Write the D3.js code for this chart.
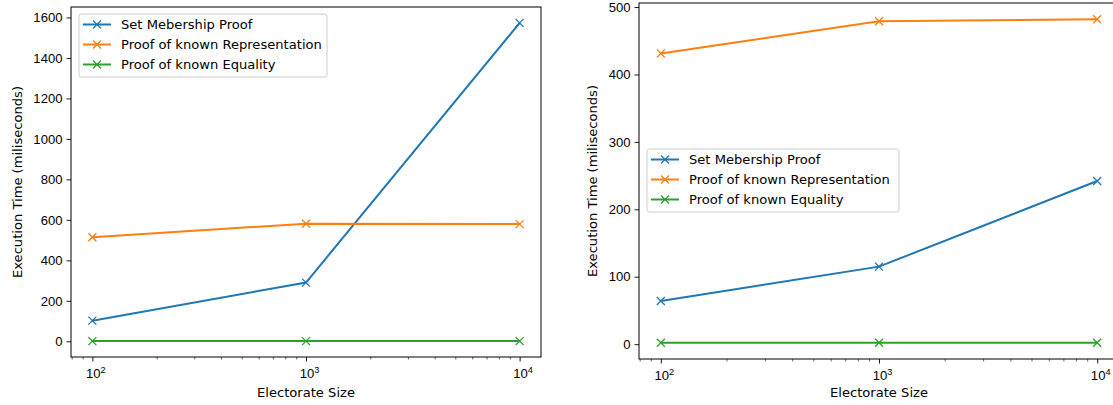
<!DOCTYPE html>
<html>
<head>
<meta charset="utf-8">
<script src="https://cdn.jsdelivr.net/npm/d3@7"></script>
<style>
  html, body { margin: 0; padding: 0; background: #fff; }
  svg { display: block; font-family: "DejaVu Sans", sans-serif; }
</style>
</head>
<body>
<svg id="chart" width="1113" height="405"></svg>
<script>
// Data
const electorateSizes = [100, 1000, 10000];
const seriesNames = ["Set Mebership Proof", "Proof of known Representation", "Proof of known Equality"];
const seriesColors = ["#1f77b4", "#ff7f0e", "#2ca02c"];

const leftMembership     = [102, 290, 1573];
const leftRepresentation = [514, 581, 579];
const leftEquality       = [1, 1, 1];

const rightMembership     = [64, 115, 242];
const rightRepresentation = [431, 479, 482];
const rightEquality       = [2, 2, 2];

const leftYTicks  = [0, 200, 400, 600, 800, 1000, 1200, 1400, 1600];
const rightYTicks = [0, 100, 200, 300, 400, 500];
const xMajorTicks = [100, 1000, 10000];
const xTickExp    = ["2", "3", "4"];

const xLabel = "Electorate Size";
const yLabel = "Execution Time (miliseconds)";

const svg = d3.select("#chart");
const FS = 13.1;

// panel layout
const panels = [
  { series: [leftMembership, leftRepresentation, leftEquality], yTicks: leftYTicks,
    box: { x0: 71, x1: 541, y0: 7, y1: 357 }, legend: { x: 79, y: 14 }, legendW: 248, yLabelX: 17 },
  { series: [rightMembership, rightRepresentation, rightEquality], yTicks: rightYTicks,
    box: { x0: 639, x1: 1119, y0: 3, y1: 359 }, legend: { x: 647, y: 149 }, legendW: 252, yLabelX: 592 }
];

// matplotlib-style 5% margins
function padded(lo, hi, log) {
  if (log) {
    const a = Math.log10(lo), b = Math.log10(hi), m = (b - a) * 0.05;
    return [Math.pow(10, a - m), Math.pow(10, b + m)];
  }
  const m = (hi - lo) * 0.05;
  return [lo - m, hi + m];
}

panels.forEach(p => {
  const b = p.box;
  const g = svg.append("g");

  const allVals = p.series.flat();
  const x = d3.scaleLog()
    .domain(padded(d3.min(electorateSizes), d3.max(electorateSizes), true))
    .range([b.x0, b.x1]);
  const y = d3.scaleLinear()
    .domain(padded(d3.min(allVals), d3.max(allVals), false))
    .range([b.y1, b.y0]);

  // minor ticks on log axis
  const [dlo, dhi] = x.domain();
  const minor = [];
  for (let e = Math.floor(Math.log10(dlo)); e <= Math.ceil(Math.log10(dhi)); e++) {
    for (let k = 2; k <= 9; k++) {
      const v = k * Math.pow(10, e);
      if (v >= dlo && v <= dhi) minor.push(v);
    }
  }

  const xMinorAxis = g.append("g")
    .attr("transform", `translate(0,${b.y1})`)
    .call(d3.axisBottom(x).tickValues(minor).tickSize(2.5).tickFormat(""));
  xMinorAxis.select(".domain").remove();
  xMinorAxis.selectAll("line").attr("stroke", "#000").attr("stroke-width", 0.6);

  const xAxis = g.append("g")
    .attr("transform", `translate(0,${b.y1})`)
    .call(d3.axisBottom(x).tickValues(xMajorTicks).tickSize(4.5).tickPadding(5).tickFormat(() => ""));
  xAxis.select(".domain").remove();
  xAxis.selectAll("line").attr("stroke", "#000").attr("stroke-width", 0.9);
  xAxis.selectAll(".tick text")
    .attr("font-size", FS).attr("fill", "#000")
    .attr("dy", "0.9em")
    .each(function(d, i) {
      const t = d3.select(this);
      t.append("tspan").text("10");
      t.append("tspan").attr("font-size", FS * 0.7).attr("dy", "-0.6em").text(xTickExp[i]);
    })
    .attr("dx", 3);

  const yAxis = g.append("g")
    .attr("transform", `translate(${b.x0},0)`)
    .call(d3.axisLeft(y).tickValues(p.yTicks).tickSize(4.5).tickPadding(4).tickFormat(d3.format("d")));
  yAxis.select(".domain").remove();
  yAxis.selectAll("line").attr("stroke", "#000").attr("stroke-width", 0.9);
  yAxis.selectAll("text").attr("font-size", FS).attr("fill", "#000");

  // spines
  g.append("rect")
    .attr("x", b.x0).attr("y", b.y0)
    .attr("width", b.x1 - b.x0).attr("height", b.y1 - b.y0)
    .attr("fill", "none").attr("stroke", "#000").attr("stroke-width", 1);

  // axis labels
  g.append("text")
    .attr("x", x(1000)).attr("y", 397)
    .attr("text-anchor", "middle").attr("font-size", FS).text(xLabel);
  g.append("text")
    .attr("transform", `translate(${p.yLabelX},${(b.y0 + b.y1) / 2}) rotate(-90)`)
    .attr("text-anchor", "middle").attr("dy", "0.35em")
    .attr("font-size", FS).text(yLabel);

  // lines + markers
  const line = d3.line().x((d, i) => x(electorateSizes[i])).y(d => y(d));
  p.series.forEach((vals, si) => {
    g.append("path")
      .datum(vals)
      .attr("fill", "none")
      .attr("stroke", seriesColors[si])
      .attr("stroke-width", 2)
      .attr("d", line);
    g.selectAll(null)
      .data(vals)
      .join("path")
        .attr("transform", (d, i) => `translate(${x(electorateSizes[i])},${y(d)})`)
        .attr("d", "M-4,-4L4,4M-4,4L4,-4")
        .attr("stroke", seriesColors[si])
        .attr("stroke-width", 1.3)
        .attr("fill", "none");
  });

  // legend
  const lg = g.append("g").attr("transform", `translate(${p.legend.x},${p.legend.y})`);
  lg.append("rect")
    .attr("width", p.legendW).attr("height", 63)
    .attr("rx", 2.5)
    .attr("fill", "#fff").attr("fill-opacity", 0.8)
    .attr("stroke", "#cccccc").attr("stroke-width", 1);
  seriesNames.forEach((name, i) => {
    const yy = 10.5 + i * 20;
    lg.append("line")
      .attr("x1", 4).attr("x2", 32).attr("y1", yy).attr("y2", yy)
      .attr("stroke", seriesColors[i]).attr("stroke-width", 2);
    lg.append("path")
      .attr("transform", `translate(18,${yy})`)
      .attr("d", "M-4,-4L4,4M-4,4L4,-4")
      .attr("stroke", seriesColors[i]).attr("stroke-width", 1.3);
    lg.append("text")
      .attr("x", 42).attr("y", yy).attr("dy", "0.35em")
      .attr("font-size", FS).text(name);
  });
});
</script>
</body>
</html>
